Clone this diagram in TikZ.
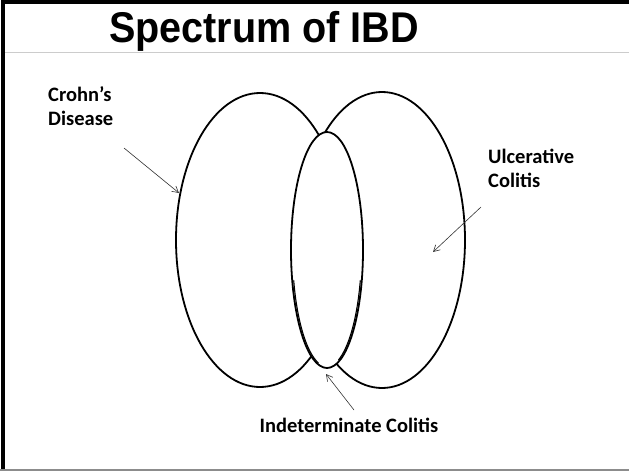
\documentclass[tikz,border=0pt]{standalone}
\usepackage{fontspec}
\setmainfont{Carlito}
\newfontfamily\titlefont{Liberation Sans}
\usetikzlibrary{arrows.meta}

\tikzset{
	lbl/.style={font=\fontsize{20.5}{24}\selectfont\bfseries, align=left, inner sep=0pt},
	ring/.style={line width=1.8pt},
	pointer/.style={->, line width=0.6pt, black!80}
}

\begin{document}
\begin{tikzpicture}[x=1pt, y=-1pt, >={Straight Barb[length=2.2mm, width=2.4mm]}]
	\useasboundingbox (0,0) rectangle (629,471);
	% frame
	\draw[line width=4pt] (3,471) -- (3,2) -- (629,2);
	\draw[black!45, line width=1.5pt] (0,470) -- (629,470);
	\draw[black!20, line width=1pt] (5,52) -- (629,52);
	\node[anchor=base, inner sep=0pt, font=\titlefont\fontsize{43}{48}\selectfont\bfseries, xscale=0.92] (title) at (264,42) {Spectrum of IBD};
	% the three ellipses
	\draw[ring] (260,240) ellipse [x radius=84, y radius=147];
	\draw[ring] (382,240) ellipse [x radius=83, y radius=148];
	\filldraw[ring, fill=white] (327,250) ellipse [x radius=36, y radius=118];
	% doubled lower edges
	\draw[line width=1.1pt] (293.7,280.3) arc[start angle=165, end angle=105, x radius=35, y radius=117];
	\draw[line width=1.1pt] (360.3,280.3) arc[start angle=15, end angle=70, x radius=35, y radius=117];
	% labels
	\node[lbl, anchor=base west] (cd) at (48,125) {Crohn’s\\Disease};
	\node[lbl, anchor=base west] (uc) at (488,187) {Ulcerative\\Colitis};
	\node[lbl, anchor=base] (ic) at (349,432) {Indeterminate Colitis};
	\coordinate (cdtip) at (179,193);
	\coordinate (uctip) at (433,252);
	\coordinate (ictip) at (326,374);
	\draw[pointer] (124,148) -- (cdtip);
	\draw[pointer] (481,207) -- (uctip);
	\draw[pointer] (354,410) -- (ictip);
\end{tikzpicture}
\end{document}
